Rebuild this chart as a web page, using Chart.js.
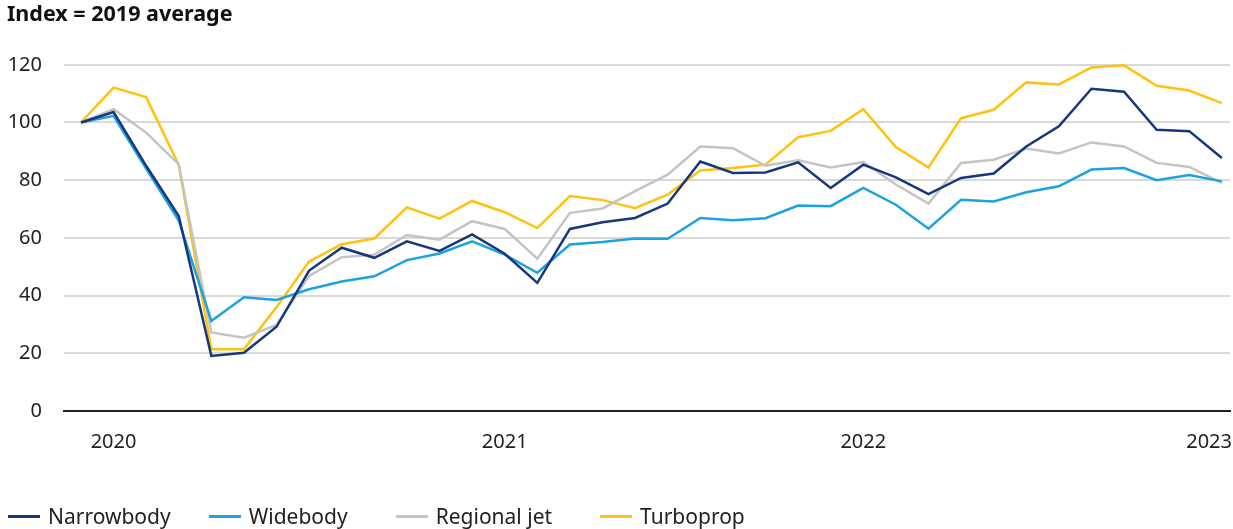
<!DOCTYPE html>
<html>
<head>
  <title>Aircraft activity index</title>
  <script src="https://cdn.jsdelivr.net/npm/chart.js"></script>
  <style>
    html, body {
      margin: 0;
      padding: 0;
      background: #fff;
    }
    .wrap {
      position: relative;
      width: 1233px;
      height: 529px;
    }
    #legend {
      position: absolute;
      left: 8px;
      top: 502px;
      display: flex;
      align-items: center;
      font-family: "Noto Sans", sans-serif;
      font-size: 21px;
      color: #222;
    }
    .item {
      display: flex;
      align-items: center;
      margin-right: 48px;
    }
    .item:first-child {
      margin-right: 38px;
    }
    .swatch {
      width: 32px;
      height: 3px;
      margin-right: 8px;
    }
  </style>
</head>
<body>
  <div class="wrap">
    <canvas id="chart" width="1233" height="529"></canvas>
    <div id="legend"></div>
  </div>

  <script>
    // monthly, Jan 2020 - Dec 2022
    const months = [
      'Jan 2020', 'Feb 2020', 'Mar 2020', 'Apr 2020', 'May 2020', 'Jun 2020',
      'Jul 2020', 'Aug 2020', 'Sep 2020', 'Oct 2020', 'Nov 2020', 'Dec 2020',
      'Jan 2021', 'Feb 2021', 'Mar 2021', 'Apr 2021', 'May 2021', 'Jun 2021',
      'Jul 2021', 'Aug 2021', 'Sep 2021', 'Oct 2021', 'Nov 2021', 'Dec 2021',
      'Jan 2022', 'Feb 2022', 'Mar 2022', 'Apr 2022', 'May 2022', 'Jun 2022',
      'Jul 2022', 'Aug 2022', 'Sep 2022', 'Oct 2022', 'Nov 2022', 'Dec 2022'
    ];

    const narrowbody = [100, 103.6, 85, 67.6, 19.1, 20.2, 29.2, 48.7, 56.6, 53.1, 58.8, 55.5,
      61.2, 54.5, 44.4, 63.1, 65.4, 66.9, 71.9, 86.5, 82.5, 82.7, 86.2, 77.3,
      85.4, 81.0, 75.2, 80.8, 82.3, 91.7, 98.7, 111.7, 110.7, 97.5, 97.0, 87.7];
    const widebody = [100, 102.3, 84, 66, 31.2, 39.4, 38.5, 42.2, 44.9, 46.7, 52.3, 54.6,
      58.8, 54.2, 47.9, 57.7, 58.6, 59.8, 59.7, 66.9, 66.1, 66.8, 71.2, 71.0,
      77.3, 71.5, 63.2, 73.2, 72.6, 75.8, 77.9, 83.7, 84.2, 80.0, 81.8, 79.6];
    const regionalJet = [100, 104.6, 96.5, 85.5, 27.2, 25.4, 29.8, 46.8, 53.3, 54.2, 61.0, 59.4,
      65.8, 63.1, 52.8, 68.7, 70.2, 76.2, 81.9, 91.7, 91.1, 85.0, 86.9, 84.4,
      86.3, 78.5, 71.9, 86.0, 87.1, 91.0, 89.3, 93.1, 91.7, 86.0, 84.6, 79.1];
    const turboprop = [100, 112.1, 108.8, 85.3, 21.4, 21.4, 36, 51.8, 57.8, 59.8, 70.6, 66.7,
      72.8, 68.9, 63.4, 74.5, 73.1, 70.3, 75.0, 83.4, 84.2, 85.4, 94.9, 97.1,
      104.6, 91.5, 84.4, 101.5, 104.4, 113.9, 113.2, 119.1, 119.8, 112.7, 111.1, 106.7];

    const yearLabels = ['2020', '2021', '2022', '2023'];
    const yearTickIdx = [1, 13, 24, 35];

    const colors = {
      narrow: '#17377c',
      wide: '#1ca2e1',
      regional: '#c4c4c4',
      turbo: '#ffc20e'
    };

    function series(label, values, color) {
      return {
        label: label,
        data: values.map((v, i) => ({ x: i, y: v })),
        borderColor: color,
        backgroundColor: color,
        borderWidth: 2.5,
        pointRadius: 0,
        tension: 0,
        clip: false
      };
    }

    // year labels under the axis, last one kept inside the canvas
    const yearTicks = {
      id: 'yearTicks',
      afterDraw(chart) {
        const ctx = chart.ctx;
        const xs = chart.scales.x;
        ctx.save();
        ctx.font = '20px "Noto Sans"';
        ctx.fillStyle = '#222';
        ctx.textBaseline = 'middle';
        yearLabels.forEach((txt, k) => {
          const px = xs.getPixelForValue(yearTickIdx[k]);
          const w = ctx.measureText(txt).width;
          if (px + w / 2 > chart.width - 1) {
            ctx.textAlign = 'right';
            ctx.fillText(txt, chart.width - 1, 442);
          } else {
            ctx.textAlign = 'center';
            ctx.fillText(txt, px, 442);
          }
        });
        ctx.restore();
      }
    };

    const chart = new Chart(document.getElementById('chart'), {
      type: 'line',
      data: {
        labels: months,
        datasets: [
          series('Narrowbody', narrowbody, colors.narrow),
          series('Widebody', widebody, colors.wide),
          series('Regional jet', regionalJet, colors.regional),
          series('Turboprop', turboprop, colors.turbo)
        ]
      },
      options: {
        responsive: false,
        animation: false,
        layout: { padding: { left: 7, right: 3, top: 0, bottom: 0 } },
        plugins: {
          legend: { display: false },
          tooltip: { enabled: false },
          title: {
            display: true,
            text: 'Index = 2019 average',
            align: 'start',
            color: '#111',
            font: { family: 'Noto Sans', size: 21.5, weight: 'bold', lineHeight: 1.2 },
            padding: { top: 2, bottom: 37 }
          }
        },
        scales: {
          x: {
            type: 'linear',
            min: -0.52,
            max: 35.25,
            ticks: { display: false },
            grid: { color: 'rgba(0,0,0,0)', drawTicks: false },
            border: { display: true, color: '#222', width: 2 },
            afterFit(scale) { scale.height = 118; }
          },
          y: {
            min: 0,
            max: 120,
            ticks: {
              stepSize: 20,
              padding: 22,
              color: '#222',
              font: { family: 'Noto Sans', size: 20 }
            },
            grid: {
              color: ctx => ctx.tick && ctx.tick.value === 0 ? 'rgba(0,0,0,0)' : '#d9d9d9',
              lineWidth: 2,
              drawTicks: false
            },
            border: { display: false },
            afterFit(scale) { scale.width = 57; }
          }
        }
      },
      plugins: [yearTicks]
    });

    // html legend built from the datasets
    const legend = document.getElementById('legend');
    chart.data.datasets.forEach(ds => {
      const item = document.createElement('div');
      item.className = 'item';
      const sw = document.createElement('span');
      sw.className = 'swatch';
      sw.style.background = ds.borderColor;
      const txt = document.createElement('span');
      txt.textContent = ds.label;
      item.appendChild(sw);
      item.appendChild(txt);
      legend.appendChild(item);
    });
  </script>
</body>
</html>
